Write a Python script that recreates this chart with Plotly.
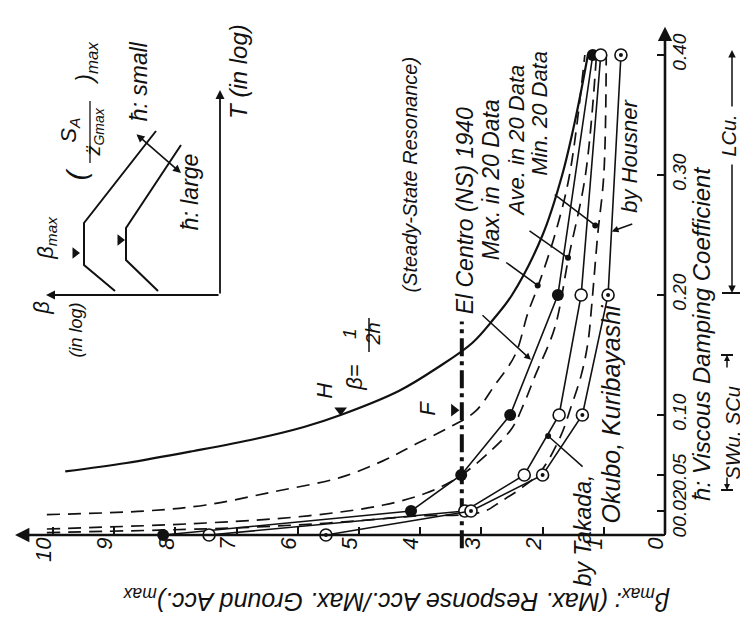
import plotly.graph_objects as go

# ---------------- data ----------------
# h : viscous damping coefficient ; beta : amplification factor
h_pts = [0.0, 0.02, 0.05, 0.10, 0.20, 0.40]
beta_elcentro = [8.2, 4.15, 3.33, 2.53, 1.75, 1.18]
beta_takada = [7.45, 3.27, 2.30, 1.73, 1.37, 1.05]
beta_housner = [5.54, 3.17, 2.00, 1.35, 0.93, 0.72]

h_max = [0.017, 0.020, 0.025, 0.036, 0.048, 0.062, 0.075, 0.089, 0.103, 0.125, 0.150, 0.185, 0.208, 0.25, 0.30, 0.40]
beta_max = [10.1, 8.5, 7.5, 6.4, 5.3, 4.6, 4.1, 3.55, 3.1, 2.78, 2.45, 2.24, 2.07, 1.80, 1.56, 1.31]

h_ave = [0.005, 0.010, 0.016, 0.025, 0.035, 0.048, 0.070, 0.089, 0.110, 0.133, 0.173, 0.23, 0.30, 0.40]
beta_ave = [10.1, 7.5, 5.83, 4.6, 3.9, 3.38, 2.85, 2.5, 2.3, 2.12, 1.8, 1.58, 1.30, 1.12]

h_min = [0.002, 0.006, 0.010, 0.014, 0.016, 0.017, 0.020, 0.028, 0.039, 0.053, 0.083, 0.106, 0.133, 0.16, 0.19, 0.25, 0.30, 0.40]
beta_min = [10.1, 7.0, 5.5, 4.5, 4.0, 3.27, 2.94, 2.68, 2.35, 2.03, 1.70, 1.54, 1.37, 1.26, 1.20, 1.10, 1.00, 0.96]

# steady-state resonance curve  beta = 1/(2h)  (as drawn)
h_H = [0.053, 0.06, 0.07, 0.08, 0.09, 0.10, 0.12, 0.14, 0.16, 0.18, 0.20, 0.25, 0.30, 0.35, 0.40]
beta_H = [9.8, 8.8, 7.7, 6.7, 5.9, 5.3, 4.35, 3.7, 3.15, 2.8, 2.5, 2.0, 1.68, 1.45, 1.26]

# line F (beta value and its extent in h)
beta_F = [3.32, 3.32]
h_F = [-0.011, 0.178]

# triangles marking points H and F
mark_H_beta, mark_H_h = [5.3], [0.104]
mark_F_beta, mark_F_h = [3.45], [0.104]

beta_ticks = [0, 1, 2, 3, 4, 5, 6, 7, 8, 9, 10]
h_ticks = [0.0, 0.02, 0.05, 0.10, 0.20, 0.30, 0.40]
h_tick_labels = ["0", "0.02", "0.05", "0.10", "0.20", "0.30", "0.40"]

# inset schematic (log-units, arbitrary)
inset_small_u = [10.5, 13.6, 13.6, 6.4]
inset_small_v = [0.4, 3.0, 7.2, 16.4]
inset_large_u = [6.2, 9.4, 9.4, 3.9]
inset_large_v = [0.4, 3.5, 6.7, 15.0]
inset_tri_u = [14.5, 10.0]
inset_tri_v = [4.2, 5.5]

# ---------------- figure ----------------
W, H = 748, 625
INK = "#111111"
FONT = "Liberation Sans"

fig = go.Figure()


def line(x, y, dash="solid", width=1.6, shape="linear", xa="x", ya="y"):
    fig.add_trace(go.Scatter(x=x, y=y, mode="lines", xaxis=xa, yaxis=ya,
                             line=dict(color=INK, width=width, dash=dash, shape=shape),
                             hoverinfo="skip", showlegend=False))


# dashed statistics curves
line(beta_max, h_max, dash="13px,8px", width=1.7, shape="spline")
line(beta_ave, h_ave, dash="13px,8px", width=1.7, shape="spline")
line(beta_min, h_min, dash="13px,8px", width=1.7, shape="spline")
# resonance curve
line(beta_H, h_H, width=2.2, shape="spline")
# F line
line(beta_F, h_F, dash="18px,5px,4px,5px", width=4)

# data series
fig.add_trace(go.Scatter(x=beta_elcentro, y=h_pts, mode="lines+markers",
                         line=dict(color=INK, width=1.6),
                         marker=dict(symbol="circle", size=12, color=INK),
                         hoverinfo="skip", showlegend=False))
fig.add_trace(go.Scatter(x=beta_takada, y=h_pts, mode="lines+markers",
                         line=dict(color=INK, width=1.6),
                         marker=dict(symbol="circle", size=12, color="white",
                                     line=dict(color=INK, width=1.6)),
                         hoverinfo="skip", showlegend=False))
fig.add_trace(go.Scatter(x=beta_housner, y=h_pts, mode="lines+markers",
                         line=dict(color=INK, width=1.6),
                         marker=dict(symbol="circle", size=12, color="white",
                                     line=dict(color=INK, width=1.6)),
                         hoverinfo="skip", showlegend=False))
fig.add_trace(go.Scatter(x=beta_housner, y=h_pts, mode="markers",
                         marker=dict(symbol="circle", size=4, color=INK),
                         hoverinfo="skip", showlegend=False))

# triangles
fig.add_trace(go.Scatter(x=mark_H_beta, y=mark_H_h, mode="markers",
                         marker=dict(symbol="triangle-down", size=11, color=INK),
                         hoverinfo="skip", showlegend=False))
fig.add_trace(go.Scatter(x=mark_F_beta, y=mark_F_h, mode="markers",
                         marker=dict(symbol="triangle-right", size=11, color=INK),
                         hoverinfo="skip", showlegend=False))

# inset schematic
line(inset_small_u, inset_small_v, width=2, xa="x2", ya="y2")
line(inset_large_u, inset_large_v, width=2, xa="x2", ya="y2")
fig.add_trace(go.Scatter(x=inset_tri_u, y=inset_tri_v, mode="markers", xaxis="x2", yaxis="y2",
                         marker=dict(symbol="triangle-right", size=10, color=INK),
                         hoverinfo="skip", showlegend=False))

# ---------------- axes ----------------
# pixel mapping: x = 657 - 61.2*beta, y = 527 - 1200*h
bx0, bk = 657.0, 61.2
hy0, hk = 527.0, 1200.0
xr = [bx0 / bk, (bx0 - W) / bk]
yr = [(hy0 - H) / hk, hy0 / hk]

fig.update_layout(
    width=W, height=H, autosize=False,
    margin=dict(l=0, r=0, t=0, b=0, pad=0),
    paper_bgcolor="white", plot_bgcolor="rgba(0,0,0,0)",
    showlegend=False,
    xaxis=dict(range=xr, domain=[0, 1], anchor="free", position=(H - hy0) / H,
               showgrid=False, zeroline=False, showline=False,
               tickmode="array", tickvals=beta_ticks, ticktext=[str(v) for v in beta_ticks],
               ticks="inside", ticklen=8, tickwidth=1.6, tickcolor=INK,
               tickangle=-90, ticklabelstandoff=-3, ticklabelshift=9,
               tickfont=dict(family=FONT, size=22, color=INK, style="italic")),
    yaxis=dict(range=yr, domain=[0, 1], anchor="free", position=bx0 / W, side="right",
               showgrid=False, zeroline=False, showline=False,
               tickmode="array", tickvals=h_ticks, ticktext=h_tick_labels,
               ticks="inside", ticklen=8, tickwidth=1.6, tickcolor=INK,
               tickangle=-90, ticklabelstandoff=1,
               tickfont=dict(family=FONT, size=19, color=INK, style="italic")),
    xaxis2=dict(range=[21.2, (212 - W) / 10.0], domain=[0, 1], anchor="y2", visible=False),
    yaxis2=dict(range=[(287 - H) / 10.0, 28.7], domain=[0, 1], anchor="x2", visible=False),
)

ann = []


def txt(x, y, s, size=19, angle=-90, xref="x", yref="y"):
    xs = -0.42 * size if angle == -90 else 0
    ys = 0.3 * size if angle == 180 else 0
    ann.append(dict(x=x, y=y, xref=xref, yref=yref, text=s, showarrow=False,
                    textangle=angle, xanchor="center", yanchor="middle",
                    xshift=xs, yshift=ys,
                    font=dict(family=FONT, size=size, color=INK, style="italic")))


def px2b(px):
    return (bx0 - px) / bk


def py2h(py):
    return (hy0 - py) / hk


def arrow(tip_b, tip_h, axp, ayp, head=0, width=1.5, xref="x", yref="y", size=1.0):
    ann.append(dict(x=tip_b, y=tip_h, xref=xref, yref=yref, ax=axp, ay=ayp,
                    text="", showarrow=True, arrowhead=head, arrowwidth=width,
                    arrowcolor=INK, arrowsize=size))


# main axes lines with arrows
ann.append(dict(x=10.62, y=0, xref="x", yref="y", ax=0, ay=0, axref="x", ayref="y",
                text="", showarrow=True, arrowhead=2, arrowsize=1.1, arrowwidth=2.6, arrowcolor=INK))
ann.append(dict(x=0, y=0.4235, xref="x", yref="y", ax=0, ay=0, axref="x", ayref="y",
                text="", showarrow=True, arrowhead=2, arrowsize=1.1, arrowwidth=2.6, arrowcolor=INK))

# inset axes
ann.append(dict(x=0, y=20.5, xref="x2", yref="y2", ax=0, ay=0, axref="x2", ayref="y2",
                text="", showarrow=True, arrowhead=2, arrowsize=1.0, arrowwidth=1.8, arrowcolor=INK))
ann.append(dict(x=17.4, y=0, xref="x2", yref="y2", ax=0, ay=0, axref="x2", ayref="y2",
                text="", showarrow=True, arrowhead=2, arrowsize=1.0, arrowwidth=1.8, arrowcolor=INK))
# inset double arrow h small <-> h large
ann.append(dict(x=3.9, y=12.2, xref="x2", yref="y2", ax=8.5, ay=16.2, axref="x2", ayref="y2",
                text="", showarrow=True, arrowhead=2, startarrowhead=2, arrowside="end+start",
                arrowsize=1.0, arrowwidth=1.6, arrowcolor=INK))

# leaders from labels to curves
arrow(2.19, 0.146, -50, -46, head=2, size=0.9)     # El Centro
arrow(2.08, 0.208, -33, -24, head=6, size=1.0)     # Max
arrow(1.585, 0.231, -40, -28, head=6, size=1.0)    # Ave
arrow(1.14, 0.258, -42, -32, head=6, size=1.0)     # Min
arrow(0.87, 0.253, 22, -8, head=2, size=0.9)       # Housner
arrow(1.91, 0.0825, 36, 32, head=6, size=1.0)      # Takada

# main labels
txt(px2b(467), py2h(203), "El Centro (NS) 1940", 23)
txt(px2b(493), py2h(172), "Max. in 20 Data", 23)
txt(px2b(517), py2h(133), "Ave. in 20 Data", 22)
txt(px2b(540), py2h(105), "Min. 20 Data", 22)
txt(px2b(630), py2h(148), "by Housner", 22)
txt(px2b(410), py2h(167), "(Steady-State Resonance)", 20)
txt(px2b(585), py2h(522), "by Takada,", 23)
txt(px2b(613), py2h(406), "Okubo, Kuribayashi", 25)
txt(px2b(325), py2h(383), "H", 22)
txt(px2b(428), py2h(400), "F", 22)
txt(px2b(355), py2h(369), "β=", 22)
txt(px2b(349), py2h(326), "1", 19)
txt(px2b(373), py2h(326), "2h", 20)
fig.add_shape(type="line", xref="x", yref="y", x0=px2b(361), x1=px2b(361),
              y0=py2h(310), y1=py2h(344), line=dict(color=INK, width=1.5))

# axis titles
txt(px2b(703), py2h(326), "ħ: Viscous Damping Coefficient", 24)
txt(px2b(388), py2h(600), "β<sub>max</sub>: (Max. Response Acc./Max. Ground Acc.)<sub>max</sub>", 25, angle=180)
txt(px2b(733), py2h(425), "SWu, SCu", 20)
txt(px2b(729), py2h(128), "LCu.", 20)
# range arrows under the h axis
arrow(px2b(724), py2h(42), 0, 58, head=2, size=1.0)
arrow(px2b(724), py2h(285), 0, -130, head=2, size=1.0)
arrow(px2b(719), py2h(347), 0, 14, head=2, size=0.8)
arrow(px2b(719), py2h(482), 0, -14, head=2, size=0.8)
fig.add_shape(type="line", xref="x", yref="y", x0=px2b(714), x1=px2b(734),
              y0=py2h(285), y1=py2h(285), line=dict(color=INK, width=2))
for yy in (347, 482):
    fig.add_shape(type="line", xref="x", yref="y", x0=px2b(713), x1=px2b(725),
                  y0=py2h(yy), y1=py2h(yy), line=dict(color=INK, width=2))

# inset labels
iu = lambda px: (212 - px) / 10.0
iv = lambda py: (287 - py) / 10.0
txt(iu(240), iv(63), "T (in log)", 24, xref="x2", yref="y2")
txt(iu(42), iv(300), "β", 22, xref="x2", yref="y2")
txt(iu(76), iv(322), "(in log)", 18, xref="x2", yref="y2")
txt(iu(48), iv(230), "β<sub>max</sub>", 22, xref="x2", yref="y2")
txt(iu(80), iv(166), "(", 28, xref="x2", yref="y2")
txt(iu(71), iv(122), "S<sub>A</sub>", 22, xref="x2", yref="y2")
txt(iu(94), iv(124), "z̈<sub>Gmax</sub>", 20, xref="x2", yref="y2")
txt(iu(88), iv(55), ")<sub>max</sub>", 24, xref="x2", yref="y2")
fig.add_shape(type="line", xref="x2", yref="y2", x0=iu(82), x1=iu(82),
              y0=iv(93), y1=iv(155), line=dict(color=INK, width=1.3))
txt(iu(141), iv(73), "ħ: small", 23, xref="x2", yref="y2")
txt(iu(192), iv(184), "ħ: large", 23, xref="x2", yref="y2")

fig.update_layout(annotations=ann)
fig.write_html("out.html")
